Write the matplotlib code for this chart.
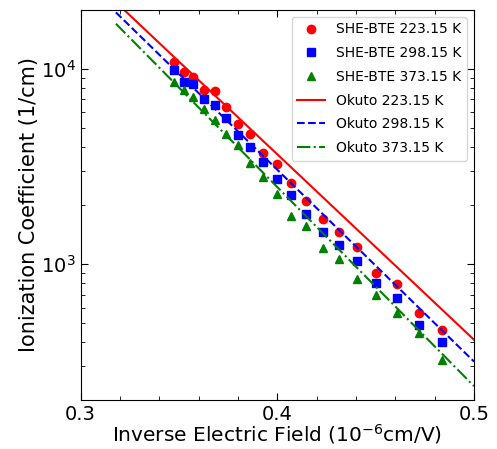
import matplotlib.pyplot as plt
from matplotlib.ticker import MultipleLocator

# inverse field values (1e-6 cm/V)
inv_field = [0.3476, 0.3525, 0.3574, 0.3627, 0.3682, 0.3738, 0.3799, 0.3863, 0.3928, 0.3999,
             0.4071, 0.4148, 0.4230, 0.4315, 0.4406, 0.4502, 0.4608, 0.4720, 0.4838]

# SHE-BTE ionization coefficients (1/cm)
alpha_223 = [10770, 9610, 9100, 7820, 7660, 6350, 5210, 4640, 3710, 3250,
             2610, 2110, 1700, 1456, 1231, 903, 791, 566, 463]
alpha_298 = [9800, 8540, 8380, 7000, 6550, 5600, 4600, 3980, 3350, 2720,
             2260, 1813, 1456, 1250, 1040, 804, 671, 490, 398]
alpha_373 = [8540, 7820, 7160, 6250, 5450, 4630, 4090, 3310, 2800, 2300,
             1762, 1567, 1216, 1064, 841, 700, 566, 446, 325]

# Okuto model lines (straight on this scale)
okuto_x = [0.318, 0.5]
okuto_223 = [21900, 411]
okuto_298 = [19410, 318]
okuto_373 = [16980, 238]

fig = plt.figure(figsize=(4.97, 4.49), dpi=100)
ax = fig.add_axes([0.162, 0.109, 0.7917, 0.869])

ax.plot(inv_field, alpha_223, 'o', color='red', ms=6, label='SHE-BTE 223.15 K')
ax.plot(inv_field, alpha_298, 's', color='blue', ms=6, label='SHE-BTE 298.15 K')
ax.plot(inv_field, alpha_373, '^', color='green', ms=6, label='SHE-BTE 373.15 K')
ax.plot(okuto_x, okuto_223, '-', color='red', lw=1.5, label='Okuto 223.15 K')
ax.plot(okuto_x, okuto_298, '--', color='blue', lw=1.5, label='Okuto 298.15 K')
ax.plot(okuto_x, okuto_373, '-.', color='green', lw=1.5, label='Okuto 373.15 K')

ax.set_yscale('log')
ax.set_xlim(0.3, 0.5)
ax.set_ylim(202, 20000)
ax.xaxis.set_major_locator(MultipleLocator(0.1))
ax.xaxis.set_minor_locator(MultipleLocator(0.02))
ax.tick_params(which='both', direction='in', top=True, right=True, labelsize=14)
ax.tick_params(which='major', length=5)
ax.tick_params(which='minor', length=3)

ax.set_xlabel('Inverse Electric Field ($10^{-6}$cm/V)', fontsize=14.5, labelpad=-1)
ax.set_ylabel('Ionization Coefficient (1/cm)', fontsize=15, labelpad=1)
ax.legend(loc='upper right', fontsize=10, labelspacing=0.7)

fig.savefig('out.png', dpi=100)
